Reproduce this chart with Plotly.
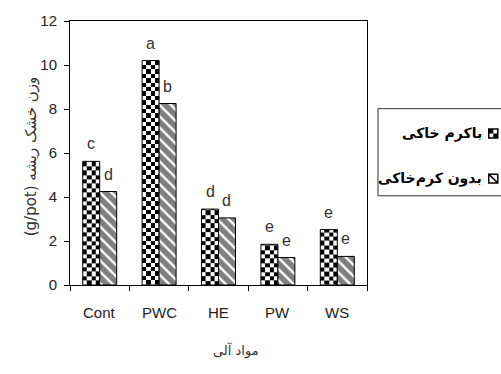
import numpy as np
import plotly.graph_objects as go

categories = ["Cont", "PWC", "HE", "PW", "WS"]
with_worm = [5.62, 10.2, 3.45, 1.85, 2.52]
without_worm = [4.25, 8.25, 3.05, 1.25, 1.3]
letters_with = ["c", "a", "d", "e", "e"]
letters_without = ["d", "b", "d", "e", "e"]
series_names = ["باکرم خاکی", "بدون کرم‌خاکی"]
y_title = "(g/pot) وزن خشک ریشه"
x_title = "مواد آلی"
y_ticks = [0, 2, 4, 6, 8, 10, 12]

BAR_W = 0.286
CELL_Y = 0.2
NCOLS = 4
x_idx = np.arange(len(categories))

fig = go.Figure()

# checkerboard fill for "with worm" bars (heatmaps computed from data)
for i, v in zip(x_idx, with_worm):
    xe = np.linspace(i - BAR_W, i, NCOLS + 1)
    ye = np.arange(0, v, CELL_Y)
    ye = np.append(ye, v)
    nr = len(ye) - 1
    z = [[(r + c) % 2 for c in range(NCOLS)] for r in range(nr)]
    fig.add_trace(go.Heatmap(x=xe, y=ye, z=z, zmin=0, zmax=1,
                             colorscale=[[0, "white"], [1, "black"]],
                             showscale=False, hoverinfo="skip"))

# outline of "with worm" bars
fig.add_trace(go.Bar(x=x_idx, y=with_worm, name=series_names[0], width=BAR_W,
                     offset=-BAR_W, marker=dict(color="rgba(0,0,0,0)",
                     line=dict(color="black", width=1)), showlegend=False))
# hatched "without worm" bars
fig.add_trace(go.Bar(x=x_idx, y=without_worm, name=series_names[1], width=BAR_W,
                     offset=0, marker=dict(color="white",
                     line=dict(color="black", width=1),
                     pattern=dict(shape="\\", fgcolor="black", bgcolor="white",
                                  size=8, solidity=0.7)), showlegend=False))

ann = []
for i, v, t in zip(x_idx, with_worm, letters_with):
    ann.append(dict(x=i - BAR_W / 2, y=v, xref="x", yref="y", text=t, showarrow=False,
                    yanchor="bottom", yshift=7,
                    font=dict(family="Liberation Sans", size=16, color="#333")))
for i, v, t in zip(x_idx, without_worm, letters_without):
    ann.append(dict(x=i + BAR_W / 2, y=v, xref="x", yref="y", text=t, showarrow=False,
                    yanchor="bottom", yshift=7,
                    font=dict(family="Liberation Sans", size=16, color="#333")))
for i, c in zip(x_idx, categories):
    ann.append(dict(x=i, y=-0.105, xref="x", yref="paper", text=c, showarrow=False,
                    yanchor="middle",
                    font=dict(family="Liberation Sans", size=15, color="#222")))
ann.append(dict(x=0.559, y=-0.289, xref="paper", yref="paper", text=x_title,
                showarrow=False, font=dict(family="DejaVu Sans", size=13, color="#333")))
ann.append(dict(x=-0.168, y=0.488, xref="paper", yref="paper", text=y_title,
                showarrow=False, textangle=-90,
                font=dict(family="DejaVu Sans", size=15, color="#333")))
# manual legend (symbol at right, RTL)
leg_y = [0.574, 0.403]
for name, ly in zip(series_names, leg_y):
    ann.append(dict(x=1.394, y=ly, xref="paper", yref="paper", text="<b>" + name + "</b>",
                    showarrow=False, xanchor="right", yanchor="middle",
                    font=dict(family="DejaVu Sans", size=14, color="black")))

px = 1 / 297.0
py = 1 / 266.5
sx0, sx1 = 1.41, 1.41 + 9 * px
shapes = [
    dict(type="rect", xref="paper", yref="paper", x0=1.037, x1=1.46, y0=0.338, y1=0.668,
         line=dict(color="#333", width=1), fillcolor="white", layer="below"),
]
# swatch 1: checker
s1y0, s1y1 = leg_y[0] - 4.5 * py, leg_y[0] + 4.5 * py
shapes.append(dict(type="rect", xref="paper", yref="paper", x0=sx0, x1=sx1, y0=s1y0, y1=s1y1,
                   line=dict(color="black", width=1.5), fillcolor="white"))
shapes.append(dict(type="rect", xref="paper", yref="paper", x0=sx0, x1=(sx0 + sx1) / 2,
                   y0=(s1y0 + s1y1) / 2, y1=s1y1, line=dict(width=0), fillcolor="black"))
shapes.append(dict(type="rect", xref="paper", yref="paper", x0=(sx0 + sx1) / 2, x1=sx1,
                   y0=s1y0, y1=(s1y0 + s1y1) / 2, line=dict(width=0), fillcolor="black"))
# swatch 2: diagonal
s2y0, s2y1 = leg_y[1] - 4.5 * py, leg_y[1] + 4.5 * py
shapes.append(dict(type="rect", xref="paper", yref="paper", x0=sx0, x1=sx1, y0=s2y0, y1=s2y1,
                   line=dict(color="black", width=1.5), fillcolor="white"))
shapes.append(dict(type="line", xref="paper", yref="paper", x0=sx0, x1=sx1, y0=s2y1, y1=s2y0,
                   line=dict(color="black", width=1.5)))

fig.update_layout(
    width=501, height=374,
    margin=dict(l=70, r=134, t=18, b=89),
    paper_bgcolor="white", plot_bgcolor="white",
    barmode="overlay", showlegend=False,
    annotations=ann, shapes=shapes,
    xaxis=dict(range=[-0.5, 4.5], tickvals=[-0.5, 0.5, 1.5, 2.5, 3.5, 4.5],
               ticktext=[""] * 6, ticks="outside", ticklen=5, tickcolor="black",
               showline=True, linecolor="black", mirror=True, showgrid=False,
               zeroline=False),
    yaxis=dict(range=[0, 12], tickvals=y_ticks, ticks="outside", ticklen=5,
               tickcolor="black", showline=True, linecolor="black", mirror=True,
               showgrid=False, zeroline=False, ticklabelstandoff=4,
               tickfont=dict(family="Liberation Sans", size=15, color="#222")),
)

fig.write_html("out.html", config={"displayModeBar": False},
               post_script="document.body.style.margin='0';")
